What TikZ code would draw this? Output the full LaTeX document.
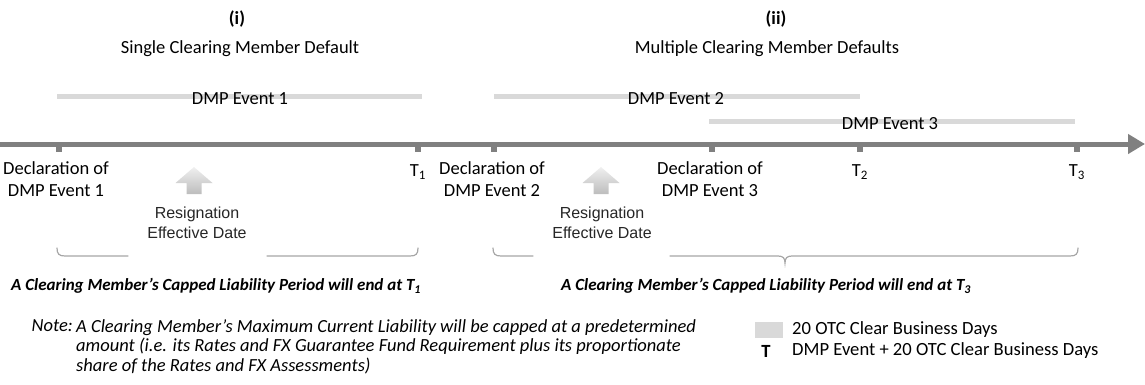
\documentclass[tikz,border=0pt]{standalone}
\usepackage{fontspec}
\setmainfont{Carlito}
\newfontfamily\arialf{Liberation Sans}
\usetikzlibrary{arrows.meta}
\definecolor{axisgray}{HTML}{808080}
\definecolor{bargray}{HTML}{D9D9D9}
\definecolor{bracegray}{HTML}{A6A6A6}
\begin{document}
\begin{tikzpicture}[x=1pt,y=-1pt,
  lbl/.style={font=\fontsize{18.5}{22}\selectfont, inner sep=0pt, align=center},
  boldlbl/.style={font=\fontsize{18.5}{22}\selectfont\bfseries, inner sep=0pt, align=center},
  reslbl/.style={font=\arialf\fontsize{16}{20}\selectfont, inner sep=0pt, align=center, text=black!85},
  caplbl/.style={font=\fontsize{17}{20}\selectfont\bfseries\itshape, inner sep=0pt},
  notelbl/.style={font=\fontsize{18.5}{19.5}\selectfont\itshape, inner sep=0pt, align=left},
  leglbl/.style={font=\fontsize{18.6}{20}\selectfont, inner sep=0pt, anchor=west},
  axisline/.style={draw=axisgray, line width=5pt, -{Triangle[length=17pt,width=19pt]}},
  tickmark/.style={draw=axisgray, line width=6pt},
  eventbar/.style={draw=bargray, line width=5pt},
  bracepart/.style={draw=bracegray, line width=1.2pt, line cap=round},
  uparrow/.pic={\shade[top color=white!94!black, bottom color=white!74!black]
     (0,-13) -- (18.5,3) -- (7.5,3) -- (7.5,14) -- (-7.5,14) -- (-7.5,3) -- (-18.5,3) -- cycle;}
]
\useasboundingbox (0,0) rectangle (1145,385);

% titles
\node[boldlbl] (numi) at (237,19) {(i)};
\node[lbl] (titlei) at (240,49) {Single Clearing Member Default};
\node[boldlbl] (numii) at (776,19) {(ii)};
\node[lbl] (titleii) at (767,49) {Multiple Clearing Member Defaults};

% event bars
\coordinate (b1s) at (57,97);  \coordinate (b1e) at (422,97);
\coordinate (b2s) at (494,97); \coordinate (b2e) at (860,97);
\coordinate (b3s) at (709,122); \coordinate (b3e) at (1075,122);
\draw[eventbar] (b1s) -- (b1e);
\draw[eventbar] (b2s) -- (b2e);
\draw[eventbar] (b3s) -- (b3e);
\node[lbl] (ev1) at (240,99) {DMP Event 1};
\node[lbl] (ev2) at (676,99) {DMP Event 2};
\node[lbl] (ev3) at (890,124) {DMP Event 3};

% axis
\coordinate (axs) at (0,144);
\coordinate (axe) at (1145,144);
\draw[axisline] (axs) -- (axe);
\foreach \tx/\nm in {59/k1,418/k2,494/k3,712/k4,860/k5,1077/k6}{
  \coordinate (\nm) at (\tx,144);
  \draw[tickmark] (\nm) -- ++(0,8);
}

% axis labels
\node[lbl] (decl1) at (56,179) {Declaration of\\DMP Event 1};
\node[lbl] (decl2) at (492,179) {Declaration of\\DMP Event 2};
\node[lbl] (decl3) at (710,179) {Declaration of\\DMP Event 3};
\node[lbl] (tone) at (418,172) {T\textsubscript{1}};
\node[lbl] (ttwo) at (860,172) {T\textsubscript{2}};
\node[lbl] (tthree) at (1077,172) {T\textsubscript{3}};

% resignation arrows
\pic at (194,180) {uparrow};
\pic at (601,180) {uparrow};
\node[reslbl] (res1) at (197,223) {Resignation\\Effective Date};
\node[reslbl] (res2) at (602,223) {Resignation\\Effective Date};

% braces
\draw[bracepart] (57,248) .. controls (57,254) and (59,256) .. (65,256) -- (128,256);
\draw[bracepart] (267,256) -- (410,256) .. controls (416,256) and (418,254) .. (418,248);
\draw[bracepart] (493,248) .. controls (493,254) and (495,256) .. (501,256) -- (533,256);
\draw[bracepart] (670,256) -- (778,256) .. controls (783,256) and (785,258) .. (785,263)
   .. controls (785,258) and (787,256) .. (792,256) -- (1070,256)
   .. controls (1076,256) and (1078,254) .. (1078,248);

% captions
\node[caplbl] (cap1) at (216,286) {A Clearing Member’s Capped Liability Period will end at T\textsubscript{1}};
\node[caplbl] (cap2) at (766,286) {A Clearing Member’s Capped Liability Period will end at T\textsubscript{3}};

% note
\node[notelbl, anchor=north east] (notehd) at (73,319) {Note:};
\node[notelbl, anchor=north west] (notebody) at (76,319) {A Clearing Member’s Maximum Current Liability will be capped at a predetermined\\amount (i.e. its Rates and FX Guarantee Fund Requirement plus its proportionate\\share of the Rates and FX Assessments)};

% legend
\fill[bargray] (755,322) rectangle (783,338) coordinate (legsq);
\node[leglbl] (leg1) at (792,330) {20 OTC Clear Business Days};
\node[font=\fontsize{18.6}{20}\selectfont\bfseries, inner sep=0pt] (legT) at (766,351) {T};
\node[leglbl] (leg2) at (792,351) {DMP Event + 20 OTC Clear Business Days};
\end{tikzpicture}
\end{document}
